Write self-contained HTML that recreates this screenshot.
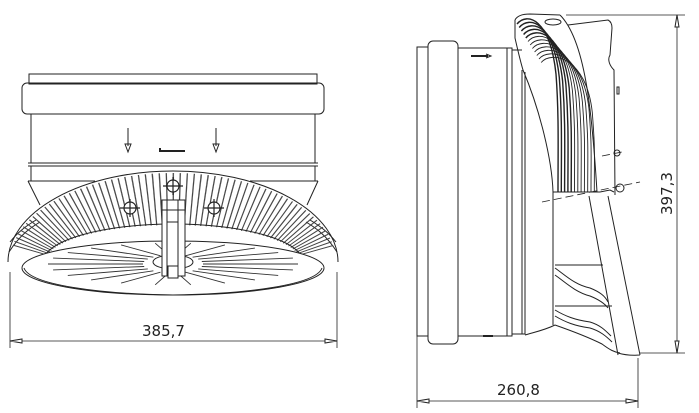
<!DOCTYPE html>
<html><head><meta charset="utf-8"><style>
html,body{margin:0;padding:0;background:#fff;}
svg{display:block;}
text{font-family:"DejaVu Sans","Liberation Sans",sans-serif;font-size:15px;fill:#222;}
</style></head><body>
<svg id="s" width="699" height="413" viewBox="0 0 699 413" xmlns="http://www.w3.org/2000/svg" fill="none" stroke="#222" stroke-width="1">
<!-- LEFT VIEW -->
<rect x="29" y="74" width="288" height="10"/>
<rect x="22" y="83" width="302" height="31" rx="5"/>
<path d="M31 114 V163 M315 114 V163"/>
<line x1="28" y1="163" x2="318" y2="163"/>
<line x1="28" y1="166" x2="318" y2="166"/>
<line x1="31" y1="166" x2="31" y2="181"/>
<line x1="315" y1="166" x2="315" y2="181"/>
<line x1="28" y1="181" x2="95" y2="181"/>
<line x1="250" y1="181" x2="318" y2="181"/>
<path d="M28 181 L40 205 M318 181 L307 205"/>
<!-- arrows -->
<path d="M128 128 V146 M216 128 V146"/>
<path d="M125 144 L128 152 L131 144 Z M213 144 L216 152 L219 144 Z"/>
<path d="M160 148 V151 H185" stroke-width="2"/>
<!-- dome -->
<path d="M8 262 A165 91 0 0 1 338 262"/>
<path d="M9 252 C20 235 30 228 40 222 M337 252 C326 235 316 228 306 222"/>
<path d="M10 242 C18 232 26 226 36 220 M336 242 C328 232 320 226 310 220"/>
<g id="fins" stroke="#444" stroke-width="0.7"></g>
<path d="M43 262 A130 38 0 0 1 303 262"/>
<!-- disk -->
<ellipse cx="173" cy="268" rx="151" ry="27" fill="#fff"/>
<path d="M24 268 C30 285 100 294 173 295 C246 294 316 285 322 268"/>
<g id="slots" stroke="#333" stroke-width="0.9"></g>
<ellipse cx="173" cy="262" rx="20" ry="7"/>
<!-- center bracket -->
<rect x="162" y="200" width="23" height="76" fill="#fff"/>
<path d="M167 200 V276 M178 200 V276 M167 222 H178 M162 210 H185"/>
<rect x="168" y="266" width="10" height="12" fill="#fff"/>
<!-- screws -->
<g stroke-width="1.2">
<circle cx="173" cy="186" r="6" fill="#fff"/><path d="M163 186 H183 M173 177 V195"/>
<circle cx="130" cy="208" r="6" fill="#fff"/><path d="M120 208 H140 M130 199 V217"/>
<circle cx="214" cy="208" r="6" fill="#fff"/><path d="M204 208 H224 M214 199 V217"/>
</g>
<!-- dimension left -->
<line x1="10" y1="272" x2="10" y2="348" stroke-width="0.8"/>
<line x1="337" y1="272" x2="337" y2="348" stroke-width="0.8"/>
<line x1="10" y1="341" x2="337" y2="341" stroke-width="0.8"/>
<path d="M10 341 L22 339 V343 Z M337 341 L325 339 V343 Z" fill="#fff"/>
<text x="142" y="336" stroke="none">385,7</text>

<!-- RIGHT VIEW -->
<rect x="417" y="47" width="11" height="289"/>
<rect x="428" y="41" width="30" height="303" rx="5"/>
<path d="M458 48 H507 M458 336 H507"/>
<rect x="507" y="48" width="5" height="288"/>
<path d="M512 50 H522 M512 334 H522 V70 M522 334 H525 V72 M525 335 C535 332 545 330 555 325"/>
<path d="M471 56 H488" stroke-width="2"/><path d="M486 54 L491 56 L486 58" />
<path d="M483 336 H493" stroke-width="2"/>
<!-- heatsink outline -->
<path d="M568 25 L608 20 Q612 22 612 28 L610 55 C607 60 610 66 614 70 L615 195"/>
<path d="M515 20 Q518 14 530 14 L560 15 M515 20 L515 38 Q520 60 523 70 C540 110 552 160 553 192 V325"/>
<path d="M560 15 C585 40 592 110 597 192"/>
<path d="M553 192 L600 192 L610 190 L614 192"/>
<g id="rfins" stroke="#222" stroke-width="0.9"></g>
<ellipse cx="553" cy="22" rx="8" ry="3" fill="#fff"/>
<!-- lower part -->
<path d="M589 196 L618 355 M608 196 L640 355 M618 353 Q628 356 640 355"/>
<path d="M555 325 C575 332 590 338 602 344 C610 350 614 352 620 353"/>
<path d="M555 265 H603 M555 306 H612"/>
<path d="M555 268 C565 275 575 285 590 288 C600 292 605 296 608 302"/>
<path d="M555 275 C565 282 575 292 590 296 C600 300 605 304 608 308"/>
<path d="M555 310 C565 316 575 320 590 322 C600 325 605 330 611 336"/>
<path d="M555 316 C565 322 575 326 590 328 C600 331 606 336 612 342"/>
<!-- screws right -->
<circle cx="617" cy="153" r="3"/><circle cx="620" cy="188" r="4"/>
<path d="M617 87 L619 87 L619 94 L617 94 Z"/>
<path d="M602 156 L622 152 M542 202 L640 182" stroke-dasharray="8 4" stroke-width="0.8"/>
<!-- dims right -->
<line x1="566" y1="15" x2="685" y2="15" stroke-width="0.8"/>
<line x1="640" y1="353" x2="685" y2="353" stroke-width="0.8"/>
<line x1="677" y1="15" x2="677" y2="353" stroke-width="0.8"/>
<path d="M677 15 L675 27 H679 Z M677 353 L675 341 H679 Z" fill="#fff"/>
<text x="0" y="0" transform="translate(672,215) rotate(-90)" stroke="none">397,3</text>
<line x1="417" y1="336" x2="417" y2="408" stroke-width="0.8"/>
<line x1="638" y1="358" x2="638" y2="408" stroke-width="0.8"/>
<line x1="417" y1="401" x2="638" y2="401" stroke-width="0.8"/>
<path d="M417 401 L429 399 V403 Z M638 401 L626 399 V403 Z" fill="#fff"/>
<text x="497" y="395" stroke="none">260,8</text>
</svg>
<script>
var NS="http://www.w3.org/2000/svg";
function ln(g,x1,y1,x2,y2){var l=document.createElementNS(NS,"line");l.setAttribute("x1",x1);l.setAttribute("y1",y1);l.setAttribute("x2",x2);l.setAttribute("y2",y2);g.appendChild(l);}
var f=document.getElementById("fins");
var N=64;
for(var i=0;i<=N;i++){var t=Math.PI*(0.06+0.88*i/N);var c=Math.cos(t),s=Math.sin(t);
 var ox=173-163*c, oy=262-89*s; var ix=173-128*c, iy=262-37*s;
 ln(f,ox.toFixed(1),oy.toFixed(1),ix.toFixed(1),iy.toFixed(1));
 var t2=t+0.004;var c2=Math.cos(t2),s2=Math.sin(t2);
 ln(f,(173-163*c2).toFixed(1),(262-89*s2).toFixed(1),(173-128*c2).toFixed(1),(262-37*s2).toFixed(1));}
var sl=document.getElementById("slots");
for(var i=0;i<22;i++){var t=2*Math.PI*i/22;var c=Math.cos(t),s=Math.sin(t);
 ln(sl,(173+30*c).toFixed(1),(264+9*s).toFixed(1),(173+125*c).toFixed(1),(264+21*s).toFixed(1));}
var r=document.getElementById("rfins");
for(var i=0;i<12;i++){var x0=517+i*2.2,y0=24+i*3.5,x1=558+i*3.3,y1=192;
 var p=document.createElementNS(NS,"path");
 p.setAttribute("d","M"+x0+" "+y0+" C"+(x0+10)+" "+(y0-12)+" "+(x1-8)+" "+(y0-6)+" "+(x1-2)+" "+(y0+50)+" C"+(x1+1)+" "+(y0+90)+" "+(x1)+" 150 "+(x1)+" "+y1);
 if(i<5)p.setAttribute("stroke-width","1.4");
 r.appendChild(p);}
</script>
</body></html>
